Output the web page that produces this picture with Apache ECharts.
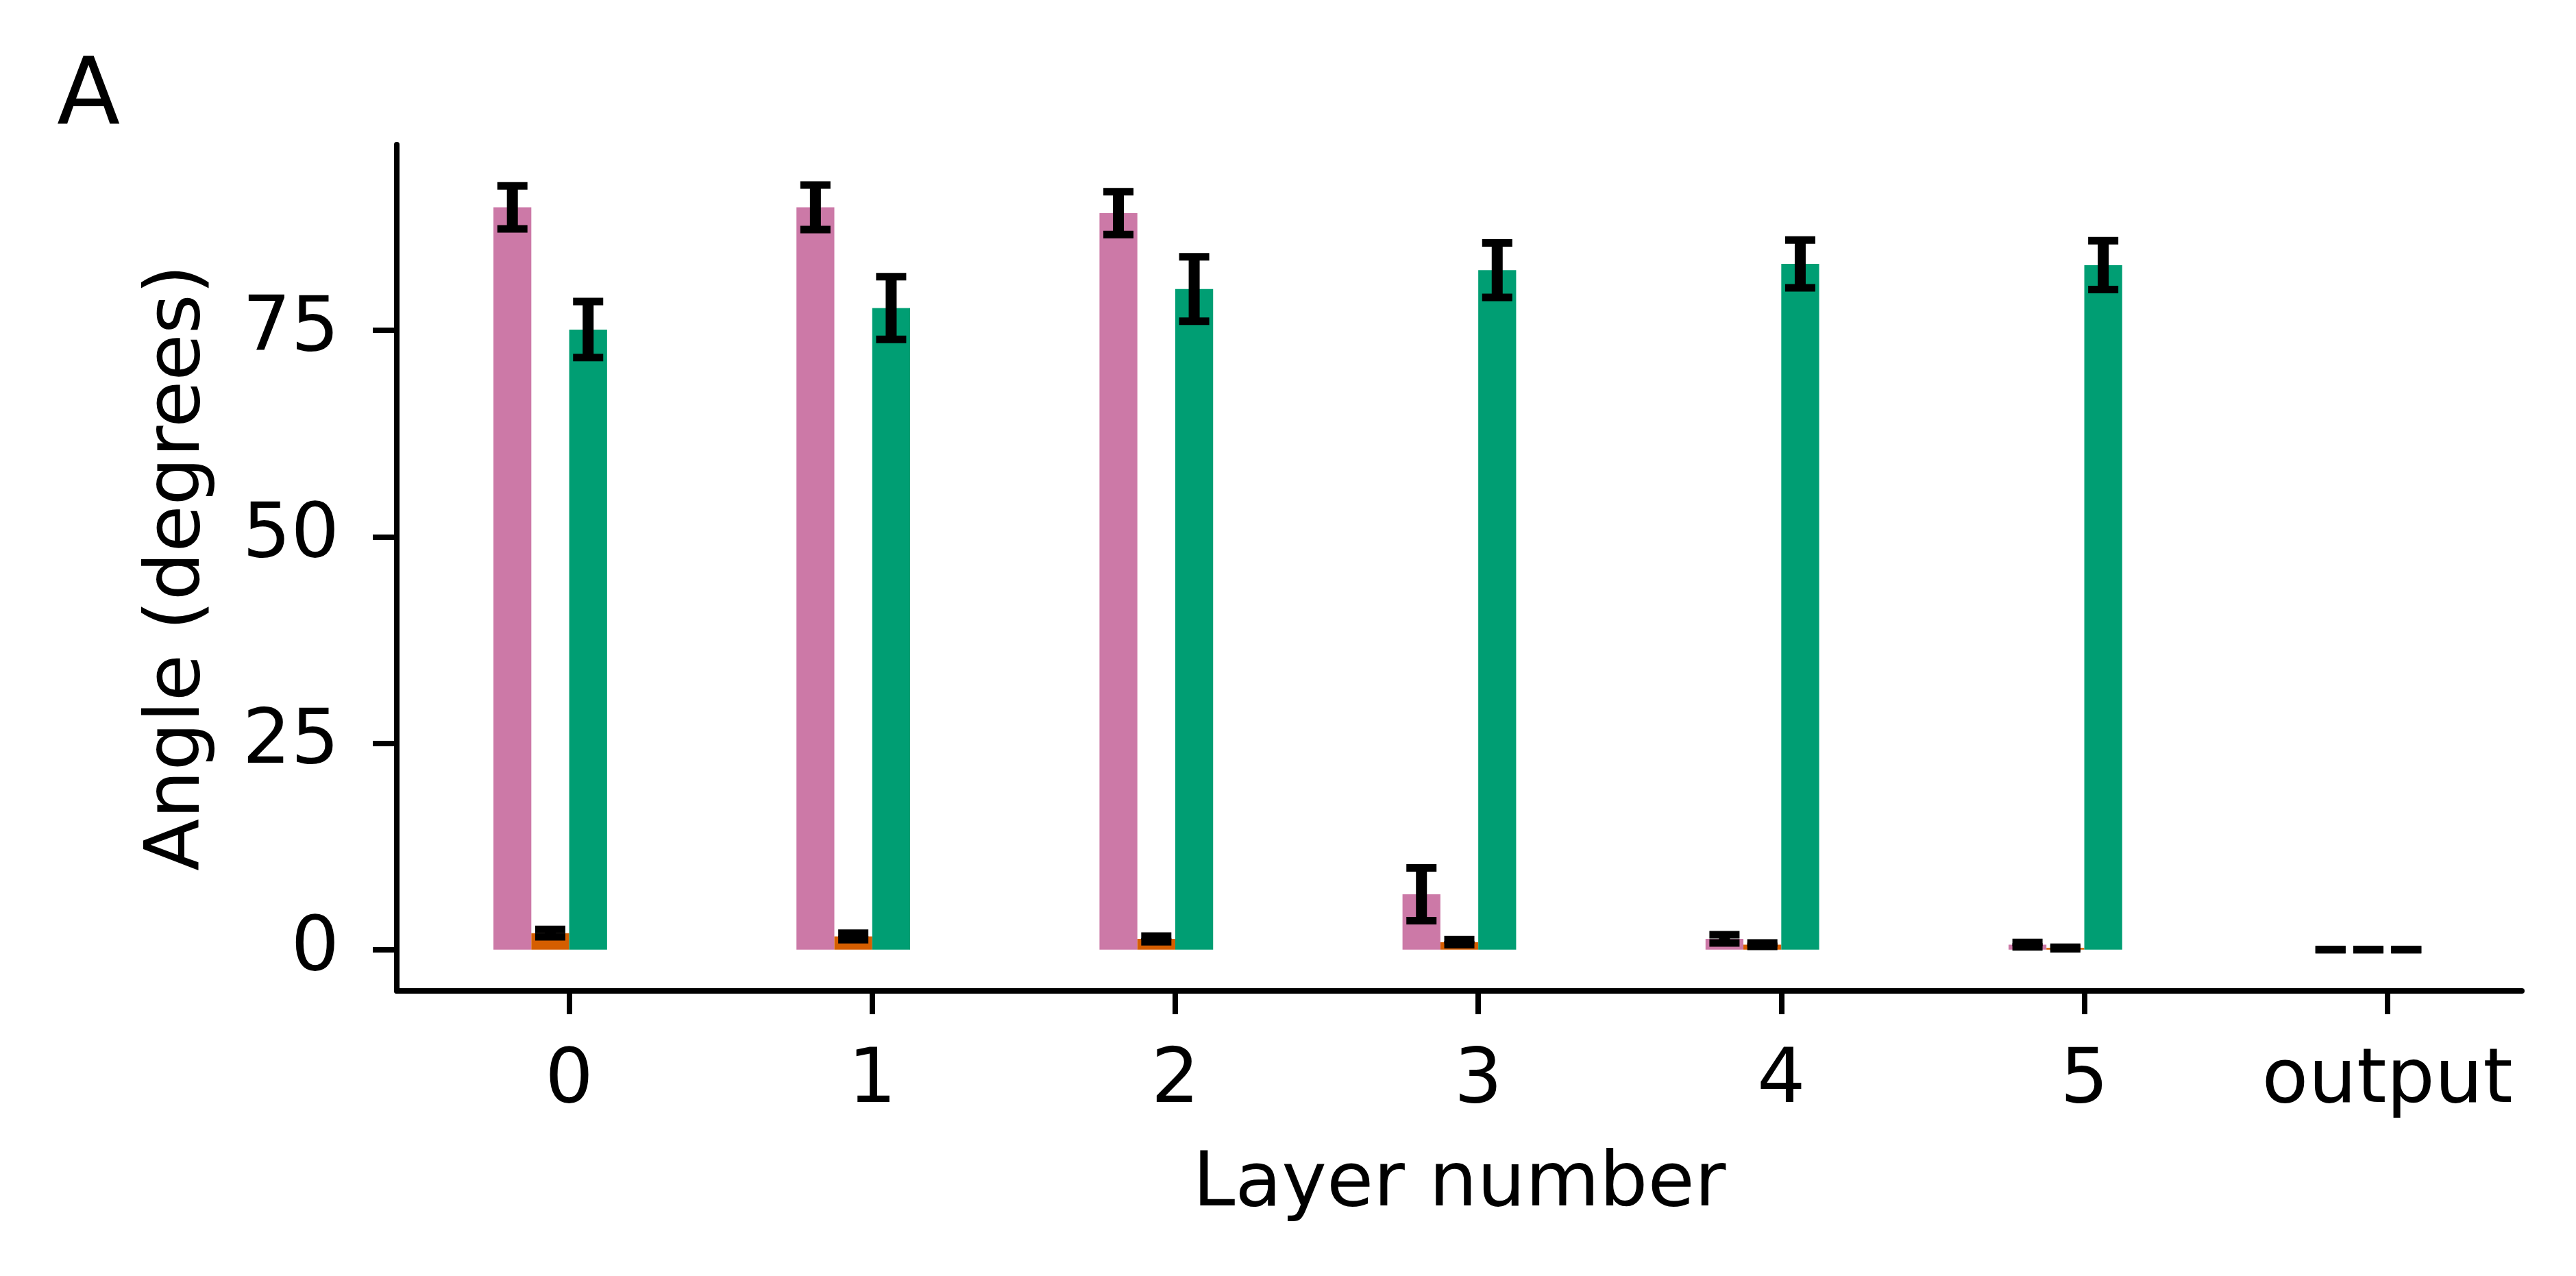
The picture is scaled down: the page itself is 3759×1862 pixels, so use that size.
<!DOCTYPE html>
<html>
<head>
<meta charset="utf-8">
<script src="https://cdn.jsdelivr.net/npm/echarts@6/dist/echarts.min.js"></script>
<style>
  html, body { margin: 0; padding: 0; background: #fff; }
  #chart { width: 3759px; height: 1862px; }
</style>
</head>
<body>
<div id="chart"></div>
<script>
// layers on the x axis
const layers = ['0', '1', '2', '3', '4', '5', 'output']
const yTicks = [0, 25, 50, 75]

// mean angle and error per layer, one pair per colour
const pinkMean = [89.9, 89.9, 89.2, 6.7, 1.3, 0.6, 0]
const pinkErr = [2.6, 2.7, 2.6, 3.2, 0.5, 0.27, 0]
const orangeMean = [2.0, 1.6, 1.3, 0.9, 0.6, 0.2, 0]
const orangeErr = [0.45, 0.4, 0.35, 0.3, 0.2, 0.1, 0]
const greenMean = [75.1, 77.7, 80.0, 82.3, 83.05, 82.9, 0]
const greenErr = [3.4, 3.8, 3.9, 3.3, 2.9, 2.95, 0]

const FONT = 'DejaVu Sans'
const BAR_W = 0.125

function barSeries(name, color, offset, means, errs) {
  return {
    name: name,
    type: 'custom',
    data: means.map((m, i) => [i, m, errs[i]]),
    renderItem: (params, api) => {
      const x = api.value(0) + offset
      const y = api.value(1)
      const e = api.value(2)
      const base = api.coord([x, 0])
      const top = api.coord([x, y])
      const hi = api.coord([x, y + e])
      const lo = api.coord([x, y - e])
      const w = api.size([BAR_W, 0])[0]
      const capW = 44, capH = 11
      return {
        type: 'group',
        children: [
          {
            type: 'rect',
            shape: { x: base[0] - w / 2, y: top[1], width: w, height: base[1] - top[1] },
            style: { fill: color }
          },
          {
            type: 'line',
            shape: { x1: base[0], y1: hi[1], x2: base[0], y2: lo[1] },
            style: { stroke: '#000', lineWidth: 16 }
          },
          {
            type: 'rect',
            shape: { x: base[0] - capW / 2, y: hi[1] - capH / 2, width: capW, height: capH },
            style: { fill: '#000' }
          },
          {
            type: 'rect',
            shape: { x: base[0] - capW / 2, y: lo[1] - capH / 2, width: capW, height: capH },
            style: { fill: '#000' }
          }
        ]
      }
    }
  }
}

const chart = echarts.init(document.getElementById('chart'))

chart.setOption({
  animation: false,
  backgroundColor: '#fff',
  title: {
    text: 'A',
    left: 78,
    top: 72,
    textStyle: { fontFamily: FONT, fontSize: 135, fontWeight: 'normal', color: '#000' }
  },
  grid: { left: 579, right: 79, top: 211, bottom: 416 },
  xAxis: {
    type: 'value',
    min: -0.569,
    max: 6.444,
    name: 'Layer number',
    nameLocation: 'middle',
    nameGap: 229,
    nameTextStyle: { fontFamily: FONT, fontSize: 111, color: '#000' },
    axisLine: { onZero: false, lineStyle: { color: '#000', width: 8 } },
    axisTick: { show: true, length: 34, lineStyle: { color: '#000', width: 8 }, customValues: [0, 1, 2, 3, 4, 5, 6] },
    axisLabel: {
      customValues: [0, 1, 2, 3, 4, 5, 6],
      formatter: v => layers[Math.round(v)],
      margin: 78,
      fontFamily: FONT, fontSize: 111, color: '#000'
    },
    splitLine: { show: false }
  },
  yAxis: {
    type: 'value',
    min: -5.0,
    max: 97.5,
    name: 'Angle (degrees)',
    nameLocation: 'middle',
    nameGap: 262,
    nameTextStyle: { fontFamily: FONT, fontSize: 111, color: '#000' },
    axisLine: { show: true, onZero: false, lineStyle: { color: '#000', width: 8 } },
    axisTick: { show: true, length: 35, lineStyle: { color: '#000', width: 8 }, customValues: yTicks },
    axisLabel: {
      customValues: yTicks,
      margin: 84,
      fontFamily: FONT, fontSize: 111, color: '#000'
    },
    splitLine: { show: false }
  },
  series: [
    barSeries('pink', '#CC79A7', -0.1875, pinkMean, pinkErr),
    barSeries('orange', '#D55E00', -0.0625, orangeMean, orangeErr),
    barSeries('green', '#009E73', 0.0625, greenMean, greenErr)
  ]
})
</script>
</body>
</html>
